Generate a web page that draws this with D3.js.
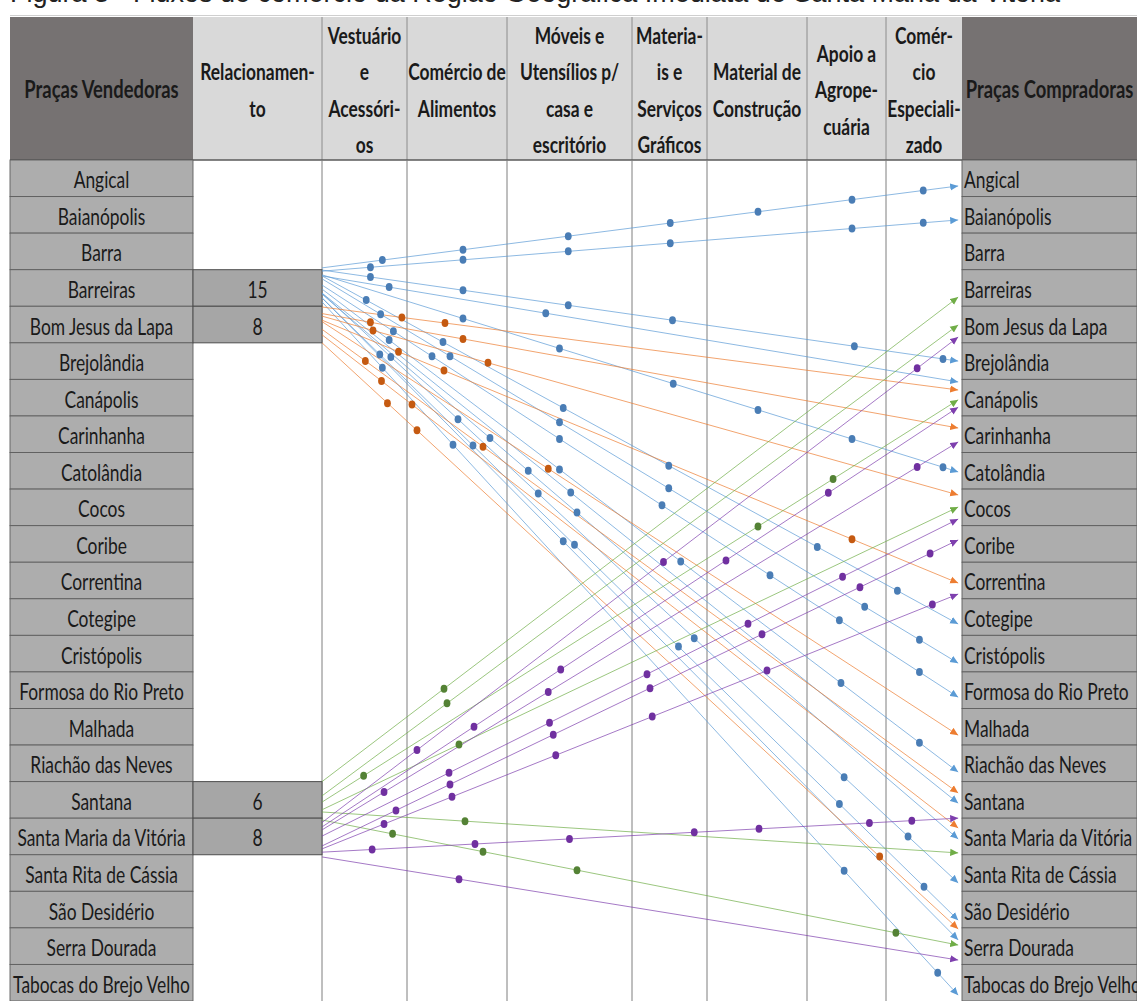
<!DOCTYPE html>
<html lang="pt">
<head>
<meta charset="utf-8">
<script src="https://cdn.jsdelivr.net/npm/d3@7"></script>
<style>
  body { margin: 0; background: #fff; }
  svg { display: block; }
  .rotulo { font-family: Lato, "Open Sans", sans-serif; fill: #1a1a1a; }
</style>
</head>
<body>
<div id="chart"></div>
<script>
// Dados

const titulo = "Figura 3 - Fluxos de comércio da Região Geográfica Imediata de Santa Maria da Vitória";

const pracas = [
  "Angical", "Baianópolis", "Barra", "Barreiras", "Bom Jesus da Lapa", "Brejolândia",
  "Canápolis", "Carinhanha", "Catolândia", "Cocos", "Coribe", "Correntina", "Cotegipe",
  "Cristópolis", "Formosa do Rio Preto", "Malhada", "Riachão das Neves", "Santana",
  "Santa Maria da Vitória", "Santa Rita de Cássia", "São Desidério", "Serra Dourada",
  "Tabocas do Brejo Velho"
];

const cabecalhoRelacionamento = ["Relacionamen-", "to"];

const setores = [
  ["Vestuário", "e", "Acessóri-", "os"],
  ["Comércio de", "Alimentos"],
  ["Móveis e", "Utensílios p/", "casa e", "escritório"],
  ["Materia-", "is e", "Serviços", "Gráficos"],
  ["Material de", "Construção"],
  ["Apoio a", "Agrope-", "cuária"],
  ["Comér-", "cio", "Especiali-", "zado"]
];

const vendedoras = ["Barreiras", "Bom Jesus da Lapa", "Santana", "Santa Maria da Vitória"];
const relacionamentos = [15, 8, 6, 8];

// y0 / y1: altura (em linhas da tabela) do início e da ponta da seta
// pontos: posição (em colunas de setor) de cada ponto sobre o fluxo
const fluxosBarreiras = [
  { destino: "Angical", y0: 2.95, y1: 0.71, pontos: [0.71, 1.56, 2.49, 3.51, 4.51, 5.57, 6.49] },
  { destino: "Baianópolis", y0: 3.04, y1: 1.64, pontos: [0.57, 1.56, 2.49, 3.51, 5.57, 6.49] },
  { destino: "Brejolândia", y0: 3.01, y1: 5.50, pontos: [0.57, 1.56, 2.49, 3.54, 5.60, 6.75] },
  { destino: "Canápolis", y0: 3.17, y1: 6.07, pontos: [0.79, 2.31] },
  { destino: "Catolândia", y0: 3.14, y1: 8.53, pontos: [1.56, 2.42, 3.55, 4.51, 5.57, 6.75] },
  { destino: "Cotegipe", y0: 3.17, y1: 12.69, pontos: [0.52, 1.36, 2.45, 3.49, 5.13, 6.15] },
  { destino: "Cristópolis", y0: 3.25, y1: 13.76, pontos: [0.69, 1.43, 2.42, 3.49, 5.73, 6.44] },
  { destino: "Formosa do Rio Preto", y0: 3.42, y1: 14.69, pontos: [0.84, 1.25, 2.42, 3.40, 4.63, 5.41, 6.44] },
  { destino: "Riachão das Neves", y0: 3.53, y1: 16.74, pontos: [0.79, 2.42, 3.65, 5.43, 6.44] },
  { destino: "Santana", y0: 3.64, y1: 17.59, pontos: [2.51] },
  { destino: "Santa Maria da Vitória", y0: 3.67, y1: 18.57, pontos: [1.83, 2.17, 2.56] },
  { destino: "Santa Rita de Cássia", y0: 3.64, y1: 19.77, pontos: [0.81, 1.51, 2.25, 3.83, 5.47, 6.29] },
  { destino: "São Desidério", y0: 3.77, y1: 20.79, pontos: [0.68, 1.66, 2.54, 3.62, 5.41, 6.50] },
  { destino: "Serra Dourada", y0: 3.77, y1: 21.33, pontos: [2.45] },
  { destino: "Tabocas do Brejo Velho", y0: 3.88, y1: 22.84, pontos: [0.71, 1.46, 5.47, 6.68] }
];

const fluxosBomJesus = [
  { destino: "Canápolis", y0: 4.02, y1: 6.29, pontos: [0.94, 1.38] },
  { destino: "Carinhanha", y0: 4.20, y1: 7.33, pontos: [0.57, 1.56] },
  { destino: "Cocos", y0: 4.27, y1: 9.16, pontos: [0.60, 1.81] },
  { destino: "Correntina", y0: 4.38, y1: 11.57, pontos: [0.90, 1.37, 5.57] },
  { destino: "Malhada", y0: 4.42, y1: 15.73, pontos: [2.33] },
  { destino: "Santana", y0: 4.63, y1: 17.31, pontos: [0.51, 1.76] },
  { destino: "Santa Maria da Vitória", y0: 4.78, y1: 18.27, pontos: [0.70, 1.05] },
  { destino: "Serra Dourada", y0: 5.00, y1: 21.03, pontos: [0.77, 1.10, 5.92] }
];

const fluxosSantana = [
  { destino: "Barreiras", y0: 17.00, y1: 3.75, pontos: [1.37] },
  { destino: "Bom Jesus da Lapa", y0: 17.39, y1: 4.51, pontos: [1.40] },
  { destino: "Canápolis", y0: 17.56, y1: 6.56, pontos: [0.49, 4.51, 5.33] },
  { destino: "Cocos", y0: 17.77, y1: 9.49, pontos: [1.52] },
  { destino: "Santa Maria da Vitória", y0: 17.83, y1: 18.95, pontos: [1.58] },
  { destino: "Serra Dourada", y0: 18.05, y1: 21.47, pontos: [0.83, 1.76, 2.56, 6.13] }
];

const fluxosSantaMaria = [
  { destino: "Bom Jesus da Lapa", y0: 18.12, y1: 4.84, pontos: [1.10, 3.42, 6.41] },
  { destino: "Canápolis", y0: 18.24, y1: 6.76, pontos: [1.67, 2.43, 4.19, 5.27] },
  { destino: "Carinhanha", y0: 18.32, y1: 7.71, pontos: [0.73, 2.33, 6.41] },
  { destino: "Cocos", y0: 18.49, y1: 9.82, pontos: [1.42, 2.34, 3.20, 4.41, 5.45] },
  { destino: "Coribe", y0: 18.76, y1: 10.39, pontos: [0.87, 1.43, 2.37, 3.24, 4.55, 5.67, 6.58] },
  { destino: "Correntina", y0: 18.84, y1: 11.87, pontos: [0.73, 1.45, 2.39, 3.27, 4.60, 6.61] },
  { destino: "Santana", y0: 18.93, y1: 18.00, pontos: [0.59, 1.68, 2.50, 3.83, 4.52, 5.79, 6.34] },
  { destino: "Serra Dourada", y0: 19.06, y1: 21.88, pontos: [1.52] }
];

// Desenho

const width = 1137;
const height = 1001;
const headerTop = 17;
const bodyTop = 160;
const colEdges = [10, 193, 322, 407, 507, 632, 707, 807, 886, 962, 1137];
const fontSize = 17.4;
const stretchY = 1.3; // a figura original está esticada na vertical
const lineGap = 36.5;
const xEnd = 6.95; // ponta das setas, em colunas

const series = [
  { fluxos: fluxosBarreiras, linha: "#5b9bd5", ponto: "#4a7db5" },
  { fluxos: fluxosBomJesus, linha: "#ed7d31", ponto: "#c55a11" },
  { fluxos: fluxosSantana, linha: "#70ad47", ponto: "#548235" },
  { fluxos: fluxosSantaMaria, linha: "#7e3fae", ponto: "#7030a0" }
];

const svg = d3.select("#chart")
  .append("svg")
  .attr("width", width)
  .attr("height", height)
  .attr("viewBox", `0 0 ${width} ${height}`);

const xCol = d3.scaleLinear()
  .domain(d3.range(8))
  .range(colEdges.slice(2, 10));

const yRow = d3.scaleLinear()
  .domain([0, pracas.length])
  .range([bodyTop, height]);

const rowBand = d3.scaleBand()
  .domain(pracas)
  .range([bodyTop, height]);

const addText = (parent, x, y, str, anchor, bold, size = fontSize) => {
  parent.append("text")
    .attr("class", "rotulo")
    .attr("transform", `translate(${x},${y}) scale(1,${stretchY})`)
    .attr("text-anchor", anchor)
    .attr("dominant-baseline", "central")
    .attr("font-size", size)
    .attr("font-weight", bold ? 700 : 400)
    .text(str);
};

// título (cortado no topo, como no original)
svg.append("text")
  .attr("x", 10)
  .attr("y", 2)
  .attr("font-family", "Liberation Sans, Arial, sans-serif")
  .attr("font-size", 27)
  .attr("fill", "#222")
  .text(titulo);

// cabeçalho
const header = svg.append("g");
const headerMid = (headerTop + bodyTop) / 2;

header.append("line")
  .attr("x1", colEdges[0]).attr("x2", width)
  .attr("y1", headerTop - 1.5).attr("y2", headerTop - 1.5)
  .attr("stroke", "#cfcfcf");

header.append("rect")
  .attr("x", colEdges[1]).attr("y", headerTop)
  .attr("width", colEdges[9] - colEdges[1]).attr("height", bodyTop - headerTop)
  .attr("fill", "#d9d9d9");

[[colEdges[0], colEdges[1]], [colEdges[9], colEdges[10]]].forEach(([a, b]) => {
  header.append("rect")
    .attr("x", a).attr("y", headerTop)
    .attr("width", b - a).attr("height", bodyTop - headerTop)
    .attr("fill", "#767272");
});

colEdges.slice(2, 9).forEach(x => {
  header.append("line")
    .attr("x1", x).attr("x2", x)
    .attr("y1", headerTop).attr("y2", bodyTop)
    .attr("stroke", "#8c8c8c");
});

header.append("line")
  .attr("x1", colEdges[0]).attr("x2", width)
  .attr("y1", bodyTop).attr("y2", bodyTop)
  .attr("stroke", "#5a5a5a")
  .attr("stroke-width", 1.5);

const headerCells = [["Praças Vendedoras"], cabecalhoRelacionamento, ...setores, ["Praças Compradoras"]];
headerCells.forEach((lines, i) => {
  const cx = (colEdges[i] + colEdges[i + 1]) / 2;
  const size = lines.length === 1 ? 18.4 : fontSize;
  lines.forEach((txt, j) => {
    const cy = headerMid + (j - (lines.length - 1) / 2) * lineGap + 1;
    addText(header, cx, cy, txt, "middle", true, size);
  });
});

// corpo da tabela
const body = svg.append("g");

body.selectAll(".grade")
  .data(d3.range(7))
  .join("line")
  .attr("class", "grade")
  .attr("x1", d => xCol(d)).attr("x2", d => xCol(d))
  .attr("y1", bodyTop).attr("y2", height)
  .attr("stroke", "#7f7f7f");

[[colEdges[0], colEdges[1]], [colEdges[9], colEdges[10]]].forEach(([a, b], k) => {
  body.selectAll(null)
    .data(pracas)
    .join("rect")
    .attr("x", a).attr("y", d => rowBand(d))
    .attr("width", b - a).attr("height", rowBand.bandwidth())
    .attr("fill", "#adadad")
    .attr("stroke", "#5e5e5e")
    .attr("stroke-width", 0.9);

  pracas.forEach(p => {
    const cy = rowBand(p) + rowBand.bandwidth() / 2 + 1;
    if (k === 0) addText(body, (a + b) / 2, cy, p, "middle", false);
    else addText(body, a + 2, cy, p, "start", false);
  });
});

vendedoras.forEach((v, i) => {
  body.append("rect")
    .attr("x", colEdges[1]).attr("y", rowBand(v))
    .attr("width", colEdges[2] - colEdges[1]).attr("height", rowBand.bandwidth())
    .attr("fill", "#a6a6a6")
    .attr("stroke", "#4d4d4d")
    .attr("stroke-width", 1);
  addText(body, (colEdges[1] + colEdges[2]) / 2, rowBand(v) + rowBand.bandwidth() / 2 + 1,
    relacionamentos[i], "middle", false);
});

// setas de fluxo
const defs = svg.append("defs");
series.forEach((s, i) => {
  defs.append("marker")
    .attr("id", `seta-${i}`)
    .attr("viewBox", "0 -4 8 8")
    .attr("refX", 8)
    .attr("refY", 0)
    .attr("markerUnits", "userSpaceOnUse")
    .attr("markerWidth", 8)
    .attr("markerHeight", 8)
    .attr("orient", "auto")
    .append("path")
    .attr("d", "M0,-3.6L8,0L0,3.6Z")
    .attr("fill", s.linha);
});

const x0 = xCol(0);
const x1 = xCol(xEnd);
const lineGenerator = d3.line();
const flows = svg.append("g");
const dots = svg.append("g");

series.forEach((s, i) => {
  flows.selectAll(null)
    .data(s.fluxos)
    .join("path")
    .attr("d", d => lineGenerator([[x0, yRow(d.y0)], [x1, yRow(d.y1)]]))
    .attr("fill", "none")
    .attr("stroke", s.linha)
    .attr("stroke-opacity", 0.78)
    .attr("stroke-width", 0.9)
    .attr("marker-end", `url(#seta-${i})`);

  const pts = s.fluxos.flatMap(d => d.pontos.map(p => {
    const px = xCol(p);
    const t = (px - x0) / (x1 - x0);
    return { x: px, y: yRow(d.y0 + t * (d.y1 - d.y0)) };
  }));

  dots.selectAll(null)
    .data(pts)
    .join("ellipse")
    .attr("cx", d => d.x)
    .attr("cy", d => d.y)
    .attr("rx", 3.4)
    .attr("ry", 4)
    .attr("fill", s.ponto);
});
</script>
</body>
</html>
